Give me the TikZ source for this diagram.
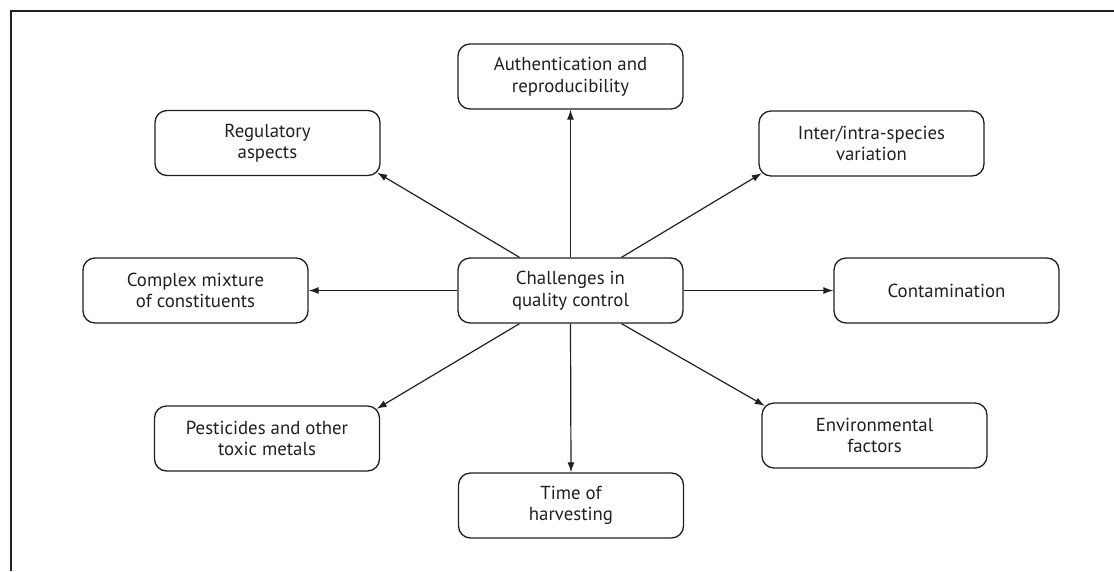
\documentclass[tikz,border=0pt]{standalone}
\usepackage{fontspec}
\setmainfont{PT Sans}
\usetikzlibrary{arrows.meta,calc}
\definecolor{ink}{HTML}{231F20}
\begin{document}
\begin{tikzpicture}[x=1pt,y=-1pt,
  box/.style={draw=ink,line width=1.3pt,rounded corners=12pt,minimum width=225pt,minimum height=65pt,align=center,text=ink,font=\fontsize{18.8}{21.5}\selectfont,inner sep=0pt},
  arr/.style={draw=ink,line width=1.2pt,-{Latex[length=10pt,width=7pt]}}]
\useasboundingbox (0,0) rectangle (1114,571);
\draw[ink,line width=2pt] (11,571) -- (11,11) -- (1114,11);
\node[box] (c) at (570.5,290.5) {Challenges in\\quality control};
\node[box] (auth) at (570.5,76.5) {Authentication and\\reproducibility};
\node[box] (reg) at (267.5,143) {Regulatory\\aspects};
\node[box] (inter) at (871.5,143.5) {Inter/intra-species\\variation};
\node[box] (cmx) at (195.5,290.5) {Complex mixture\\of constituents};
\node[box] (cont) at (946.5,290.5) {Contamination};
\node[box] (pest) at (267,438.5) {Pesticides and other\\toxic metals};
\node[box] (env) at (874.5,435.5) {Environmental\\factors};
\node[box] (time) at (571,505.5) {Time of\\harvesting};
\draw[arr] (c.north) -- (auth.south);
\draw[arr] (c.south) -- (time.north);
\draw[arr] (c.west) -- (cmx.east);
\draw[arr] (c.east) -- (cont.west);
\draw[arr] ($(c.north)+(-51,0)$) -- ($(reg.south east)+(-3.5,-3.5)$);
\draw[arr] ($(c.north)+(51,0)$) -- ($(inter.south west)+(3.5,-3.5)$);
\draw[arr] ($(c.south)+(-51,0)$) -- ($(pest.north east)+(-3.5,3.5)$);
\draw[arr] ($(c.south)+(51,0)$) -- ($(env.north west)+(3.5,3.5)$);
\end{tikzpicture}
\end{document}
